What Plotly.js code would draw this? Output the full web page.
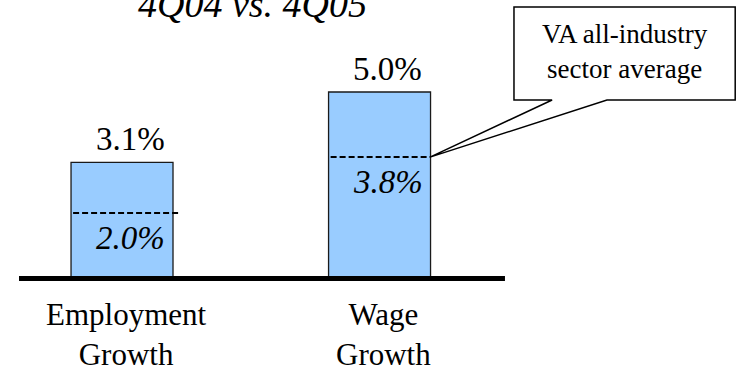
<!DOCTYPE html>
<html>
<head>
<meta charset="utf-8">
<script src="https://cdn.plot.ly/plotly-3.0.1.min.js"></script>
<style>html,body{margin:0;padding:0;background:#fff;}#chart{width:737px;height:367px;}</style>
</head>
<body>
<div id="chart"></div>
<script>
// ---- data ----
const categories = ["Employment<br>Growth", "Wage<br>Growth"];
const growth = [3.1, 5.0];                 // bar values (%)
const sectorAvg = [2.0, 3.8];              // VA all-industry sector average labels (%)
const sectorAvgDrawn = [1.73, 3.24];       // height at which the dashed marker is drawn in the picture
const titleText = "4Q04 vs. 4Q05";
const calloutText = "VA all-industry<br>sector average";

// ---- layout constants ----
const FONT = "'Liberation Serif', 'Times New Roman', 'DejaVu Serif', serif";
const barWidth = 0.396;
const dashLeft = -0.19;
const dashRight = [0.225, 0.196];

const fmt = v => v.toFixed(1) + "%";

const trace = {
  type: "bar",
  x: categories,
  y: growth,
  width: barWidth,
  marker: {color: "#99CCFF", line: {color: "#1a1a1a", width: 1.3}},
  hoverinfo: "none"
};

const shapes = [];
// baseline
shapes.push({type: "line", xref: "x", yref: "y", x0: -0.4, x1: 1.487, y0: -0.04, y1: -0.04,
  line: {color: "#000", width: 5}});
// sector average dashed markers
sectorAvgDrawn.forEach((v, i) => {
  shapes.push({type: "line", xref: "x", yref: "y", x0: i + dashLeft, x1: i + dashRight[i], y0: v, y1: v,
    line: {color: "#000", width: 2, dash: "6px,3px"}});
});
// callout box with wedge pointing at the wage sector-average marker
const ax = 1 + dashRight[1], ay = sectorAvgDrawn[1];
const bx0 = 1.522, bx1 = 2.381, by0 = 4.784, by1 = 7.297, g0 = 1.670, g1 = 1.883;
shapes.push({type: "path", xref: "x", yref: "y",
  path: `M ${g0},${by0} L ${bx0},${by0} L ${bx0},${by1} L ${bx1},${by1} L ${bx1},${by0} L ${g1},${by0} L ${ax},${ay} Z`,
  fillcolor: "#fff", line: {color: "#000", width: 1.5}});

const annotations = [];
// title
annotations.push({xref: "paper", yref: "paper", x: 0.3426, y: 0.926, xanchor: "center", yanchor: "bottom",
  text: "<i>" + titleText + "</i>", showarrow: false, font: {family: FONT, size: 38, color: "#000"}});
// value labels
growth.forEach((v, i) => {
  annotations.push({xref: "x", yref: "y", x: i, y: v, xanchor: "center", yanchor: "bottom", xshift: 8, yshift: 3,
    text: fmt(v), showarrow: false, font: {family: FONT, size: 33, color: "#000"}});
});
// sector average labels
sectorAvg.forEach((v, i) => {
  annotations.push({xref: "x", yref: "y", x: i, y: sectorAvgDrawn[i], xanchor: "right", yanchor: "middle",
    xshift: 45, yshift: -25,
    text: "<i>" + fmt(v) + "</i>", showarrow: false, font: {family: FONT, size: 33, color: "#000"}});
});
// category labels
categories.forEach((c, i) => {
  annotations.push({xref: "x", yref: "paper", x: i, y: 1 - 334 / 367, xanchor: "center", yanchor: "middle", xshift: 4,
    text: c, showarrow: false, font: {family: FONT, size: 31, color: "#000"}});
});
// callout text
annotations.push({xref: "x", yref: "paper", x: 1.953, y: 1 - 52 / 367, xanchor: "center", yanchor: "middle",
  text: calloutText, showarrow: false, font: {family: FONT, size: 27, color: "#000"}});

const layout = {
  width: 737, height: 367,
  margin: {l: 0, r: 0, t: 0, b: 0, pad: 0},
  paper_bgcolor: "#fff", plot_bgcolor: "#fff",
  showlegend: false,
  xaxis: {range: [-0.4738, 2.388], visible: false, fixedrange: true},
  yaxis: {range: [-2.432, 7.486], visible: false, fixedrange: true},
  shapes: shapes,
  annotations: annotations
};

Plotly.newPlot("chart", [trace], layout, {staticPlot: true, displayModeBar: false});
</script>
</body>
</html>
